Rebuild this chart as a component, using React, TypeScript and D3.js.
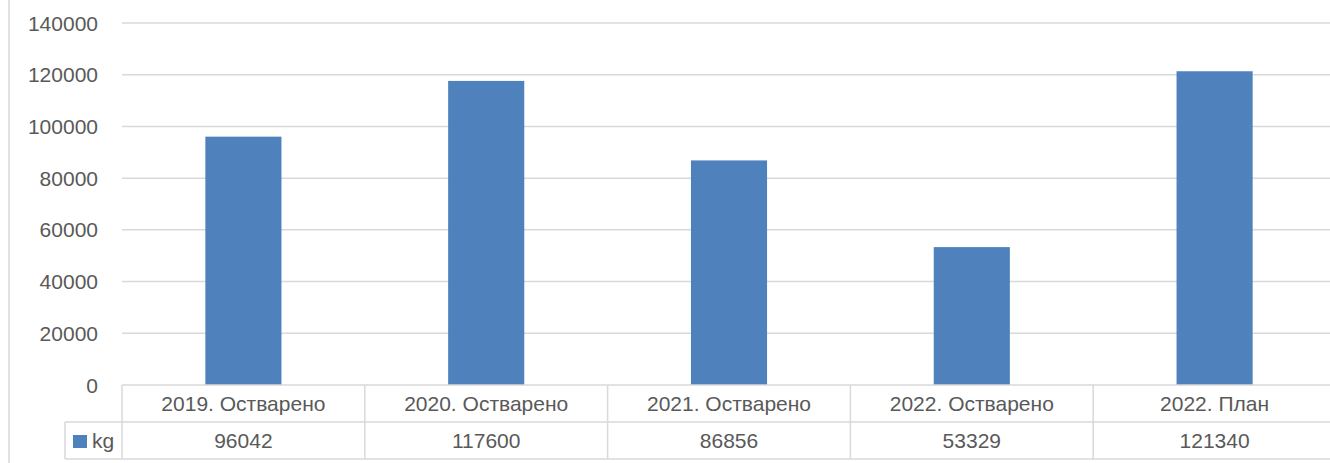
import React from "react";
import * as d3 from "d3";

const categories = ["2019. Остварено", "2020. Остварено", "2021. Остварено", "2022. Остварено", "2022. План"];
const values = [96042, 117600, 86856, 53329, 121340];
const seriesName = "kg";
const yTicks = [0, 20000, 40000, 60000, 80000, 100000, 120000, 140000];

const W = 1330;
const H = 463;
const plotLeft = 122;
const plotRight = 1336;
const plotTop = 23;
const plotBottom = 385;
const row1 = 422;
const row2 = 459;
const legendLeft = 65;
const grid = "#d9d9d9";
const textColor = "#595959";
const barColor = "#4f81bd";
const font = "'Liberation Sans', Arial, sans-serif";
const fs = 21;

export default function App() {
  const x = d3.scaleBand<string>().domain(categories).range([plotLeft, plotRight]).paddingInner(0).paddingOuter(0);
  const y = d3.scaleLinear().domain([0, 140000]).range([plotBottom, plotTop]);
  const bw = x.bandwidth() / 3.19;
  const bounds = categories.map((c) => x(c) as number).concat([plotRight]);

  return (
    <div style={{ position: "absolute", left: 0, top: 0 }}>
      <svg width={W} height={H} style={{ display: "block", background: "#fff" }}>
        <rect x={0} y={0} width={W} height={H} fill="#fff" />
        <line x1={9} x2={9} y1={0} y2={H} stroke={grid} strokeWidth={1.5} />
        {yTicks.map((t) => (
          <g key={t}>
            {t > 0 && <line x1={plotLeft} x2={plotRight} y1={y(t)} y2={y(t)} stroke={grid} strokeWidth={1.5} />}
            <text x={98} y={y(t) + 7.5} textAnchor="end" fontFamily={font} fontSize={fs} fill={textColor}>
              {t}
            </text>
          </g>
        ))}
        {categories.map((c, i) => (
          <rect
            key={c}
            x={(x(c) as number) + (x.bandwidth() - bw) / 2}
            y={y(values[i])}
            width={bw}
            height={plotBottom - y(values[i])}
            fill={barColor}
          />
        ))}
        {/* data table */}
        <line x1={plotLeft} x2={plotRight} y1={plotBottom} y2={plotBottom} stroke={grid} strokeWidth={1.5} />
        <line x1={legendLeft} x2={plotRight} y1={row1} y2={row1} stroke={grid} strokeWidth={1.5} />
        <line x1={legendLeft} x2={plotRight} y1={row2} y2={row2} stroke={grid} strokeWidth={1.5} />
        <line x1={legendLeft} x2={legendLeft} y1={row1} y2={row2} stroke={grid} strokeWidth={1.5} />
        {bounds.map((b, i) => (
          <line key={i} x1={b} x2={b} y1={plotBottom} y2={row2} stroke={grid} strokeWidth={1.5} />
        ))}
        {categories.map((c, i) => (
          <g key={c}>
            <text
              x={(x(c) as number) + x.bandwidth() / 2}
              y={(plotBottom + row1) / 2 + 7.5}
              textAnchor="middle"
              fontFamily={font}
              fontSize={fs}
              fill={textColor}
            >
              {c}
            </text>
            <text
              x={(x(c) as number) + x.bandwidth() / 2}
              y={(row1 + row2) / 2 + 7.5}
              textAnchor="middle"
              fontFamily={font}
              fontSize={fs}
              fill={textColor}
            >
              {values[i]}
            </text>
          </g>
        ))}
        <rect x={73} y={435} width={14} height={13} fill={barColor} />
        <text x={92} y={(row1 + row2) / 2 + 7.5} fontFamily={font} fontSize={fs} fill={textColor}>
          {seriesName}
        </text>
      </svg>
    </div>
  );
}
